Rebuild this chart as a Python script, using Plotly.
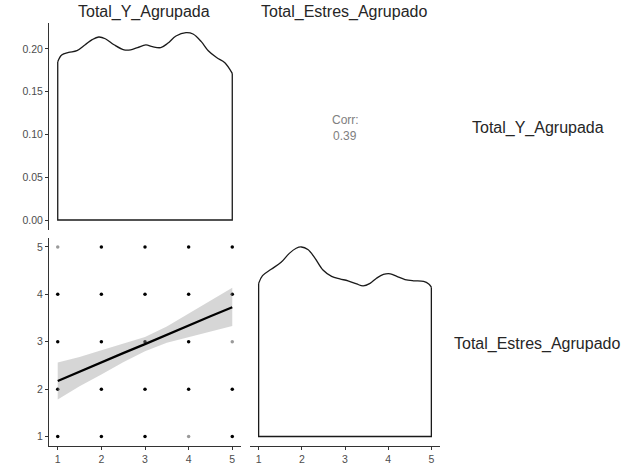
import plotly.graph_objects as go

W, H = 628, 468

# ---- data ----
levels = [1, 2, 3, 4, 5]
y_dens_x = [1.0, 1.09, 1.25, 1.44, 1.63, 1.79, 1.94, 2.09, 2.29, 2.52, 2.67, 2.83, 3.02,
            3.17, 3.36, 3.52, 3.71, 3.94, 4.10, 4.29, 4.45, 4.64, 4.83, 5.0]
y_dens_v = [0.185, 0.193, 0.196, 0.198, 0.205, 0.211, 0.214, 0.212, 0.205, 0.199, 0.199,
            0.2016, 0.2047, 0.2027, 0.2016, 0.2066, 0.2152, 0.2191, 0.2175, 0.2086, 0.198,
            0.190, 0.184, 0.1715]
e_dens_x = [1.0, 1.09, 1.29, 1.52, 1.71, 1.87, 1.99, 2.14, 2.30, 2.49, 2.69, 2.88, 3.07,
            3.27, 3.42, 3.58, 3.73, 3.89, 4.05, 4.20, 4.39, 4.59, 4.82, 4.94, 5.0]
e_dens_v = [0.240, 0.252, 0.262, 0.273, 0.287, 0.295, 0.297, 0.293, 0.280, 0.261, 0.251,
            0.247, 0.244, 0.239, 0.236, 0.240, 0.248, 0.254, 0.255, 0.251, 0.246, 0.244,
            0.243, 0.239, 0.234]
pts_x = [1, 2, 3, 4, 5] * 5
pts_y = [1] * 5 + [2] * 5 + [3] * 5 + [4] * 5 + [5] * 5
pts_shade = ["#000000", "#000000", "#000000", "#9a9a9a", "#000000",
             "#000000", "#000000", "#000000", "#000000", "#000000",
             "#000000", "#000000", "#000000", "#000000", "#9a9a9a",
             "#000000", "#000000", "#000000", "#000000", "#000000",
             "#9a9a9a", "#000000", "#000000", "#000000", "#000000"]
fit_x = [1, 1.5, 2, 2.5, 3, 3.5, 4, 4.5, 5]
fit_y = [2.17, 2.37, 2.56, 2.76, 2.95, 3.15, 3.34, 3.54, 3.73]
fit_hi = [2.56, 2.68, 2.82, 2.96, 3.10, 3.32, 3.59, 3.86, 4.14]
fit_lo = [1.78, 2.06, 2.31, 2.57, 2.80, 2.98, 3.09, 3.21, 3.33]
corr_val = "0.39"
var_names = ["Total_Y_Agrupada", "Total_Estres_Agrupado"]
dens_tick_vals = [0.0, 0.05, 0.10, 0.15, 0.20]
dens_tick_text = ["0.00", "0.05", "0.10", "0.15", "0.20"]

def px(x):
    return x / W

def py(y):
    return 1 - y / H

fig = go.Figure()
LC = "#1a1a1a"

# top-left density
fig.add_trace(go.Scatter(x=y_dens_x, y=y_dens_v, mode="lines", line=dict(color=LC, width=1.3, shape="spline"),
                         xaxis="x3", yaxis="y3", hoverinfo="skip"))
fig.add_trace(go.Scatter(x=[y_dens_x[0], y_dens_x[0], y_dens_x[-1], y_dens_x[-1]],
                         y=[y_dens_v[0], 0, 0, y_dens_v[-1]], mode="lines",
                         line=dict(color=LC, width=1.3), xaxis="x3", yaxis="y3", hoverinfo="skip"))

# scatter points
fig.add_trace(go.Scatter(x=pts_x, y=pts_y, mode="markers",
                         marker=dict(color=pts_shade, size=3.5, line=dict(width=0)),
                         xaxis="x", yaxis="y", hoverinfo="skip"))
# CI band
fig.add_trace(go.Scatter(x=fit_x + fit_x[::-1], y=fit_hi + fit_lo[::-1], mode="lines",
                         fill="toself", fillcolor="rgba(153,153,153,0.4)", line=dict(width=0),
                         xaxis="x", yaxis="y", hoverinfo="skip"))
fig.add_trace(go.Scatter(x=fit_x, y=fit_y, mode="lines", line=dict(color="#000000", width=2.2),
                         xaxis="x", yaxis="y", hoverinfo="skip"))

# bottom-right density
fig.add_trace(go.Scatter(x=e_dens_x, y=e_dens_v, mode="lines", line=dict(color=LC, width=1.3, shape="spline"),
                         xaxis="x2", yaxis="y2", hoverinfo="skip"))
fig.add_trace(go.Scatter(x=[e_dens_x[0], e_dens_x[0], e_dens_x[-1], e_dens_x[-1]],
                         y=[e_dens_v[0], 0, 0, e_dens_v[-1]], mode="lines",
                         line=dict(color=LC, width=1.3), xaxis="x2", yaxis="y2", hoverinfo="skip"))

tickfont = dict(family="Liberation Sans, Arial, sans-serif", size=10.5, color="#4d4d4d")
axcommon = dict(showgrid=False, zeroline=False, showline=True, linecolor="#333333", linewidth=1,
                ticks="outside", ticklen=3, tickwidth=1, tickcolor="#333333", tickfont=tickfont)

emax = max(e_dens_v)
fig.update_layout(
    width=W, height=H, margin=dict(l=0, r=0, t=0, b=0),
    paper_bgcolor="white", plot_bgcolor="white", showlegend=False,
    xaxis=dict(domain=[px(49), px(241)], range=[0.8, 5.2], anchor="y",
               tickvals=levels, ticktext=[str(v) for v in levels], **axcommon),
    yaxis=dict(domain=[py(446), py(237.5)], range=[0.8, 5.2], anchor="x",
               tickvals=levels, ticktext=[str(v) for v in levels], **axcommon),
    xaxis2=dict(domain=[px(250), px(440)], range=[0.8, 5.2], anchor="y2",
                tickvals=levels, ticktext=[str(v) for v in levels], **axcommon),
    yaxis2=dict(domain=[py(446), py(237.5)], range=[-0.05 * emax, 1.05 * emax], anchor="x2", visible=False),
    xaxis3=dict(domain=[px(49), px(241)], range=[0.8, 5.2], anchor="y3", visible=False),
    yaxis3=dict(domain=[py(230), py(23)], range=[-0.0117, 0.2304], anchor="x3",
                tickvals=dens_tick_vals, ticktext=dens_tick_text, **axcommon),
)

hfont = dict(family="Liberation Sans, Arial, sans-serif", size=16, color="#262626")
cfont = dict(family="Liberation Sans, Arial, sans-serif", size=12, color="#808080")
ann = [
    dict(x=px(144), y=py(12), text=var_names[0], font=hfont),
    dict(x=px(344), y=py(12), text=var_names[1], font=hfont),
    dict(x=px(538), y=py(128), text=var_names[0], font=hfont),
    dict(x=px(537), y=py(344), text=var_names[1], font=hfont),
    dict(x=px(345), y=py(120), text="Corr:", font=cfont),
    dict(x=px(345), y=py(136), text=corr_val, font=cfont),
]
for a in ann:
    a.update(xref="paper", yref="paper", showarrow=False, xanchor="center", yanchor="middle")
fig.update_layout(annotations=ann)

fig.write_html("out.html", config={"displayModeBar": False},
               post_script="document.body.style.margin='0';document.body.style.overflow='hidden';")
